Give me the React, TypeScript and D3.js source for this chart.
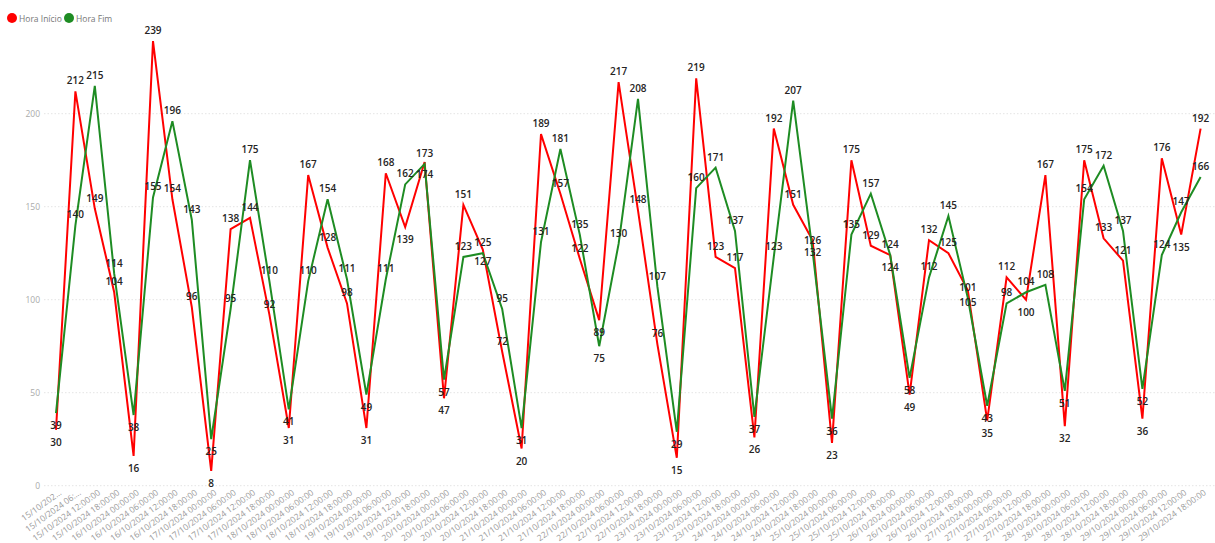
import React from 'react';
import * as d3 from 'd3';

const days = [
  '15/10/2024', '16/10/2024', '17/10/2024', '18/10/2024', '19/10/2024',
  '20/10/2024', '21/10/2024', '22/10/2024', '23/10/2024', '24/10/2024',
  '25/10/2024', '26/10/2024', '27/10/2024', '28/10/2024', '29/10/2024',
];
const hours = ['00:00:00', '06:00:00', '12:00:00', '18:00:00'];
const categories = days.flatMap((d) => hours.map((h) => `${d} ${h}`));
// the first two axis labels are truncated in the reference
const tickLabels = categories.map((c, i) => (i === 0 ? '15/10/202...' : i === 1 ? '15/10/2024 06:...' : c));

const horaInicio = [
  30, 212, 149, 104, 16, 239, 154, 96, 8, 138,
  144, 92, 31, 167, 128, 98, 31, 168, 139, 174,
  47, 151, 127, 72, 20, 189, 157, 122, 89, 217,
  148, 76, 15, 219, 123, 117, 26, 192, 151, 132,
  23, 175, 129, 124, 49, 132, 125, 105, 35, 112,
  100, 167, 32, 175, 133, 121, 36, 176, 135, 192,
];
const horaFim = [
  39, 140, 215, 114, 38, 155, 196, 143, 25, 95,
  175, 110, 41, 110, 154, 111, 49, 111, 162, 173,
  57, 123, 125, 95, 31, 131, 181, 135, 75, 130,
  208, 107, 29, 160, 171, 137, 37, 123, 207, 126,
  36, 135, 157, 124, 58, 112, 145, 101, 43, 98,
  104, 108, 51, 154, 172, 137, 52, 124, 147, 166,
];
const yTicks = [0, 50, 100, 150, 200];
const seriesNames = ['Hora Início', 'Hora Fim'];
const seriesColors = ['#FF0000', '#1E8C23'];

function isLocalMin(arr: number[], i: number) {
  const v = arr[i];
  const l = i > 0 ? arr[i - 1] : Infinity;
  const r = i < arr.length - 1 ? arr[i + 1] : Infinity;
  return v <= l && v <= r;
}

export default function App() {
  const W = 1215;
  const H = 543;
  const x = d3.scalePoint<string>().domain(categories).range([56, 1200.6]);
  const y = d3.scaleLinear().domain([0, 200]).range([485.7, 113.7]);
  const series = [horaInicio, horaFim];
  const lineGen = (arr: number[]) =>
    d3
      .line<number>()
      .x((_, i) => x(categories[i]) as number)
      .y((d) => y(d))(arr) as string;

  const ABOVE = -11;
  const BELOW = 12;
  const labels: { x: number; y: number; t: string }[] = [];
  categories.forEach((c, i) => {
    const pos = series.map((arr) => y(arr[i]) + (isLocalMin(arr, i) ? BELOW : ABOVE));
    if (Math.abs(pos[0] - pos[1]) < 12) {
      pos[0] = y(horaInicio[i]) + BELOW;
      pos[1] = y(horaFim[i]) + ABOVE;
    }
    series.forEach((arr, s) => {
      labels.push({ x: x(c) as number, y: pos[s], t: String(arr[i]) });
    });
  });

  return (
    <svg
      width={W}
      height={H}
      style={{ position: 'absolute', left: 0, top: 0, background: '#fff' }}
      fontFamily="'Open Sans', 'Noto Sans', sans-serif"
    >
      {/* legend */}
      <g>
        {seriesNames.map((n, i) => {
          const lx = i === 0 ? 12 : 69;
          return (
            <g key={n}>
              <circle cx={lx} cy={18} r={5} fill={seriesColors[i]} />
              <text x={lx + 7} y={18} dominantBaseline="central" fontSize={8.5} fill="#777">
                {n}
              </text>
            </g>
          );
        })}
      </g>
      {/* grid + y axis */}
      {yTicks.map((t) => (
        <g key={t}>
          <line x1={44} x2={W} y1={y(t)} y2={y(t)} stroke="#e4e4e4" strokeDasharray="1.5,2" />
          <text x={40} y={y(t)} textAnchor="end" dominantBaseline="central" fontSize={8.5} fill="#aaa">
            {t}
          </text>
        </g>
      ))}
      {/* x axis labels */}
      {categories.map((c, i) => (
        <text
          key={c}
          transform={`translate(${(x(c) as number) + 4},${491}) rotate(-36)`}
          textAnchor="end"
          dominantBaseline="central"
          fontSize={8.5}
          fill="#9a9a9a"
        >
          {tickLabels[i]}
        </text>
      ))}
      {/* lines */}
      {series.map((arr, s) => (
        <path key={s} d={lineGen(arr)} fill="none" stroke={seriesColors[s]} strokeWidth={2} strokeLinejoin="miter" />
      ))}
      {/* data labels */}
      {labels.map((l, i) => (
        <text
          key={i}
          x={l.x}
          y={l.y}
          textAnchor="middle"
          dominantBaseline="central"
          fontSize={10}
          fontWeight={600}
          fill="#252423"
        >
          {l.t}
        </text>
      ))}
    </svg>
  );
}
